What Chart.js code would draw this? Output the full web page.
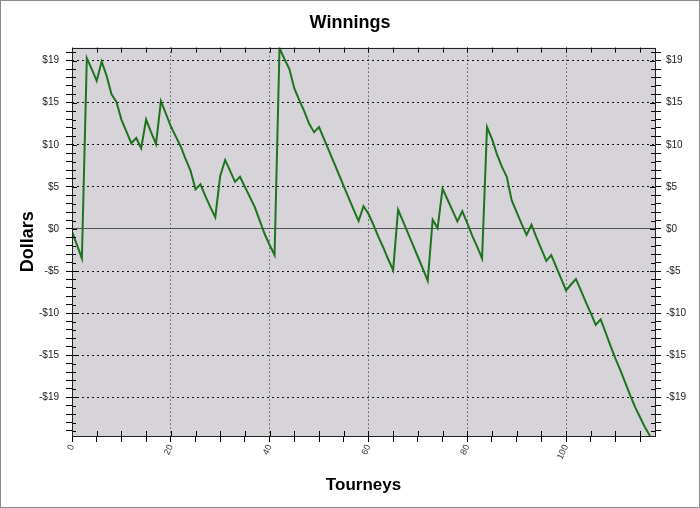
<!DOCTYPE html>
<html>
<head>
<meta charset="utf-8">
<script src="https://cdn.jsdelivr.net/npm/chart.js@4/dist/chart.umd.min.js"></script>
<style>
  body { margin: 0; background: #fff; }
  canvas { display: block; }
</style>
</head>
<body>
<canvas id="winningsChart" width="700" height="508"></canvas>
<script>
// winnings after each tourney (dollars)
const winnings = [
  -0.3, -1.9, -3.5, 20.3, 19.0, 17.6, 19.9, 18.2, 16.0, 15.1,
  13.0, 11.6, 10.2, 10.8, 9.6, 13.0, 11.5, 10.1, 15.2, 13.7,
  12.2, 11.0, 9.8, 8.3, 6.9, 4.7, 5.3, 3.9, 2.6, 1.4,
  6.3, 8.2, 6.9, 5.6, 6.2, 5.0, 3.8, 2.6, 1.0, -0.6,
  -1.9, -3.1, 21.5, 20.2, 19.0, 16.7, 15.3, 14.0, 12.5, 11.5,
  12.1, 10.7, 9.3, 7.9, 6.5, 5.1, 3.7, 2.3, 0.95, 2.7,
  1.8, 0.5, -0.9, -2.2, -3.6, -4.9, 2.3, 0.9, -0.5, -1.9,
  -3.3, -4.7, -6.15, 1.1, 0.1, 4.8, 3.5, 2.2, 0.9, 2.1,
  0.7, -0.8, -2.1, -3.5, 12.1, 10.7, 8.9, 7.4, 6.2, 3.4,
  2.0, 0.6, -0.7, 0.5, -1.0, -2.4, -3.8, -3.1, -4.5, -5.9,
  -7.3, -6.6, -5.95, -7.3, -8.7, -10.0, -11.4, -10.75, -12.3, -13.9,
  -15.4, -16.8, -18.3, -19.8, -21.2, -22.4, -23.6, -24.6
];
const tourneys = winnings.map((v, i) => i);

const yTickValues = [20, 15, 10, 5, 0, -5, -10, -15, -20];
const yTickLabels = ["$19", "$15", "$10", "$5", "$0", "-$5", "-$10", "-$15", "-$19"];
const xTickLabels = [0, 20, 40, 60, 80, 100];

const FONT = "'Liberation Sans', Arial, sans-serif";
const Y_MIN = -24.6, Y_MAX = 21.55;
const X_MAX = 118;

function yTicks(scale) {
    scale.ticks = [];
    for (let v = -24; v <= 21; v++) scale.ticks.push({ value: v });
}
function yLabel(value) {
    let i = yTickValues.indexOf(value);
    return i >= 0 ? yTickLabels[i] : "";
}

// plot background, frame and inward tick marks
const framePlugin = {
    id: "frame",
    beforeDraw(chart) {
        let ctx = chart.ctx, a = chart.chartArea;
        ctx.save();
        ctx.fillStyle = "#fff";
        ctx.fillRect(0, 0, chart.width, chart.height);
        ctx.fillStyle = "#d6d4d9";
        ctx.fillRect(a.left, a.top, a.right - a.left, a.bottom - a.top);
        ctx.restore();
    },
    afterDraw(chart) {
        let ctx = chart.ctx, a = chart.chartArea;
        let xs = chart.scales.x, ys = chart.scales.y;
        ctx.save();
        ctx.strokeStyle = "#000";
        ctx.lineWidth = 1;
        ctx.beginPath();
        xs.ticks.forEach(t => {
            let px = Math.round(xs.getPixelForValue(t.value)) + 0.5;
            ctx.moveTo(px, a.bottom); ctx.lineTo(px, a.bottom - 5);
            ctx.moveTo(px, a.top); ctx.lineTo(px, a.top + 5);
        });
        ys.ticks.forEach(t => {
            let py = Math.round(ys.getPixelForValue(t.value)) + 0.5;
            let len = t.value % 5 === 0 ? 5 : 4;
            ctx.moveTo(a.left, py); ctx.lineTo(a.left + len, py);
            ctx.moveTo(a.right, py); ctx.lineTo(a.right - len, py);
        });
        ctx.stroke();
        ctx.strokeStyle = "#222";
        ctx.strokeRect(Math.round(a.left) + 0.5, Math.round(a.top) + 0.5,
            Math.round(a.right - a.left), Math.round(a.bottom - a.top));
        ctx.strokeStyle = "#8a8a8a";
        ctx.strokeRect(0.5, 0.5, chart.width - 1, chart.height - 1);
        ctx.restore();
    }
};

let ctx = document.getElementById("winningsChart").getContext("2d");
let winningsChart = new Chart(ctx, {
    type: "line",
    data: {
        datasets: [
            {
                label: "Winnings",
                data: winnings.map((v, i) => ({ x: tourneys[i], y: v })),
                borderColor: "#1e731e",
                borderWidth: 2,
                pointRadius: 0,
                tension: 0,
                fill: false,
                yAxisID: "y",
            },
        ],
    },
    options: {
        responsive: false,
        animation: false,
        layout: { padding: 0 },
        plugins: {
            legend: { display: false },
            tooltip: { enabled: false },
            title: {
                display: true,
                text: "Winnings",
                color: "#000",
                font: { family: FONT, size: 18, weight: "bold" },
                padding: { top: 12, bottom: 14 },
            },
        },
        scales: {
            x: {
                type: "linear",
                position: "bottom",
                min: 0,
                max: X_MAX,
                afterBuildTicks: (scale) => {
                    scale.ticks = [];
                    for (let v = 0; v < X_MAX; v += 5) scale.ticks.push({ value: v });
                },
                afterFit: (scale) => { scale.height = 72; },
                ticks: {
                    autoSkip: false,
                    minRotation: 65,
                    maxRotation: 65,
                    padding: 1,
                    color: "#333",
                    font: { family: FONT, size: 9 },
                    callback: (v) => (xTickLabels.includes(v) ? String(v) : ""),
                },
                grid: {
                    color: (c) => (c.tick && c.tick.value > 0 && c.tick.value % 20 === 0 ? "#222" : "rgba(0,0,0,0)"),
                    tickColor: "#000",
                    tickLength: 6,
                },
                border: { display: false, dash: [1, 3] },
                title: {
                    display: true,
                    text: "Tourneys",
                    color: "#000",
                    font: { family: FONT, size: 17, weight: "bold" },
                    padding: { top: 0, bottom: 12 },
                },
            },
            y: {
                type: "linear",
                position: "left",
                min: Y_MIN,
                max: Y_MAX,
                afterBuildTicks: yTicks,
                afterFit: (scale) => { scale.width = 72; },
                ticks: {
                    autoSkip: false,
                    padding: 7,
                    color: "#222",
                    font: { family: FONT, size: 10 },
                    callback: yLabel,
                },
                grid: {
                    color: (c) => {
                        if (!c.tick) return "rgba(0,0,0,0)";
                        if (c.tick.value === 0) return "#555";
                        return yTickValues.includes(c.tick.value) ? "#111" : "rgba(0,0,0,0)";
                    },
                    tickColor: "#000",
                    tickLength: 6,
                },
                border: {
                    display: false,
                    dash: (c) => (c.tick && c.tick.value === 0 ? [] : [2, 3]),
                },
                title: {
                    display: true,
                    text: "Dollars",
                    color: "#000",
                    font: { family: FONT, size: 18, weight: "bold" },
                    padding: { top: 17, bottom: 0 },
                },
            },
            y2: {
                type: "linear",
                position: "right",
                min: Y_MIN,
                max: Y_MAX,
                afterBuildTicks: yTicks,
                afterFit: (scale) => { scale.width = 45; },
                ticks: {
                    autoSkip: false,
                    padding: 5,
                    color: "#222",
                    font: { family: FONT, size: 10 },
                    callback: yLabel,
                },
                grid: {
                    drawOnChartArea: false,
                    tickColor: "#000",
                    tickLength: 6,
                },
                border: { display: false },
            },
        },
    },
    plugins: [framePlugin],
});
</script>
</body>
</html>
